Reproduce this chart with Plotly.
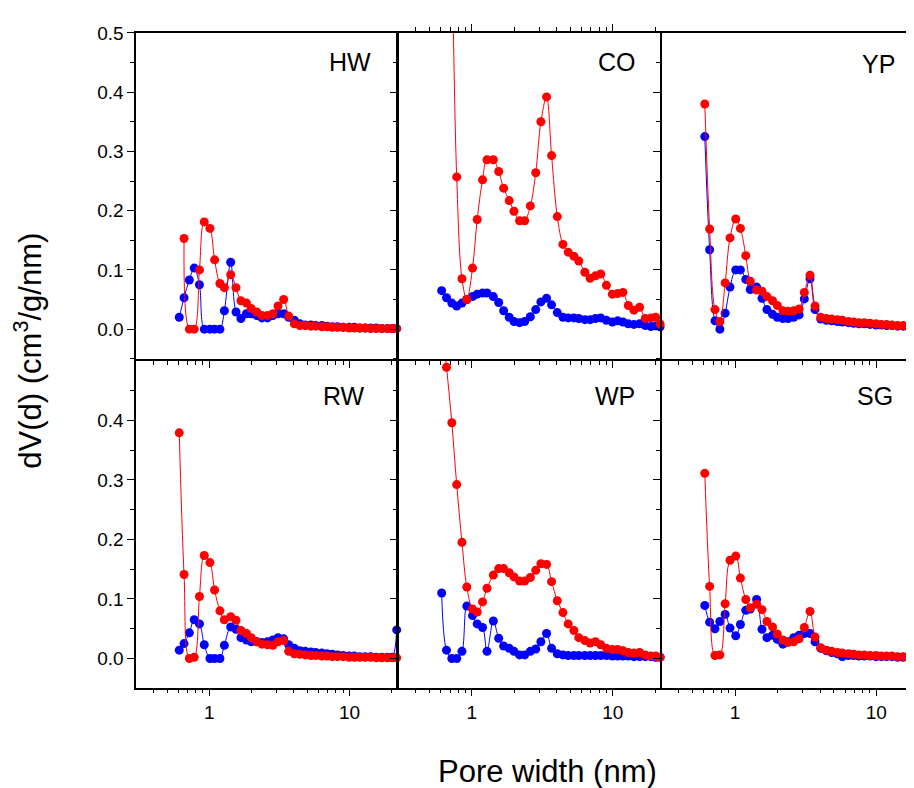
import plotly.graph_objects as go

# pore widths (nm) shared by every panel
PORE_WIDTH = [0.61, 0.66, 0.72, 0.78, 0.85, 0.92, 1.01, 1.09, 1.19, 1.28, 1.42, 1.55,
              1.68, 1.84, 1.99, 2.18, 2.37, 2.60, 2.84, 3.09, 3.39, 3.68, 4.04, 4.43,
              4.83, 5.30, 5.74, 6.34, 6.91, 7.54, 8.22, 9.02, 9.94, 10.84, 11.82, 12.90,
              14.15, 15.51, 17.01, 18.66, 20.20, 21.70]

PANELS = ['HW', 'CO', 'YP', 'RW', 'WP', 'SG']

HW_BLUE = [0.020, 0.053, 0.083, 0.103, 0.075, 0.0, 0.0, 0.0, 0.0, 0.031, 0.113, 0.029,
           0.018, 0.026, 0.026, 0.023, 0.019, 0.019, 0.023, 0.026, 0.026, 0.020, 0.015,
           0.009, 0.007, 0.007, 0.006, 0.006, 0.005, 0.004, 0.004, 0.003, 0.003, 0.003,
           0.002, 0.002, 0.002, 0.002, 0.001, 0.001, 0.001, 0.001]
HW_RED = [None, 0.153, 0.0, 0.0, 0.100, 0.181, 0.170, 0.117, 0.077, 0.070, 0.092, 0.070,
          0.048, 0.044, 0.035, 0.029, 0.023, 0.023, 0.026, 0.039, 0.050, 0.022, 0.009,
          0.006, 0.006, 0.005, 0.005, 0.004, 0.004, 0.003, 0.003, 0.003, 0.002, 0.002,
          0.002, 0.002, 0.001, 0.001, 0.001, 0.001, 0.001, 0.001]

CO_BLUE = [0.065, 0.053, 0.044, 0.039, 0.044, 0.050, 0.055, 0.059, 0.061, 0.061, 0.055,
           0.045, 0.031, 0.020, 0.013, 0.011, 0.013, 0.021, 0.033, 0.046, 0.052, 0.041,
           0.028, 0.020, 0.019, 0.019, 0.018, 0.016, 0.016, 0.018, 0.019, 0.015, 0.012,
           0.014, 0.012, 0.009, 0.008, 0.009, 0.006, 0.0045, 0.0055, 0.004]
CO_RED = [1.1, 0.9, 0.62, 0.257, 0.085, 0.050, 0.103, 0.185, 0.252, 0.286, 0.286, 0.266,
          0.238, 0.217, 0.199, 0.183, 0.183, 0.208, 0.264, 0.350, 0.392, 0.293, 0.190,
          0.143, 0.130, 0.123, 0.115, 0.096, 0.086, 0.090, 0.093, 0.074, 0.059, 0.060,
          0.062, 0.040, 0.032, 0.037, 0.018, 0.019, 0.020, 0.009]

YP_BLUE = [0.325, 0.134, 0.014, 0.0, 0.027, 0.071, 0.100, 0.100, 0.084, 0.067, 0.071,
           0.052, 0.033, 0.025, 0.020, 0.018, 0.018, 0.020, 0.024, 0.051, 0.085, 0.033,
           0.017, 0.015, 0.014, 0.013, 0.012, 0.011, 0.010, 0.009, 0.009, 0.008, 0.007,
           0.007, 0.006, 0.006, 0.005, 0.005, 0.004, 0.004, 0.003, 0.003]
YP_RED = [0.380, 0.169, 0.033, 0.013, 0.078, 0.154, 0.186, 0.170, 0.124, 0.081, 0.066,
          0.064, 0.055, 0.048, 0.040, 0.031, 0.030, 0.031, 0.034, 0.062, 0.091, 0.039,
          0.020, 0.018, 0.017, 0.016, 0.015, 0.013, 0.012, 0.011, 0.011, 0.010, 0.009,
          0.008, 0.008, 0.007, 0.006, 0.006, 0.005, 0.005, 0.004, 0.004]

RW_BLUE = [0.014, 0.025, 0.043, 0.065, 0.058, 0.023, 0.0, 0.0, 0.0, 0.022, 0.053, 0.049,
           0.035, 0.031, 0.028, 0.028, 0.027, 0.028, 0.031, 0.035, 0.033, 0.023, 0.017,
           0.013, 0.012, 0.011, 0.010, 0.009, 0.008, 0.007, 0.006, 0.005, 0.004, 0.004,
           0.003, 0.003, 0.003, 0.002, 0.002, 0.002, 0.002, 0.048]
RW_RED = [0.379, 0.141, 0.0, 0.002, 0.104, 0.173, 0.161, 0.115, 0.080, 0.065, 0.070, 0.064,
          0.047, 0.042, 0.035, 0.028, 0.024, 0.023, 0.022, 0.028, 0.030, 0.012, 0.008,
          0.007, 0.006, 0.005, 0.005, 0.004, 0.004, 0.003, 0.003, 0.003, 0.002, 0.002,
          0.002, 0.002, 0.002, 0.001, 0.001, 0.001, 0.001, 0.001]

WP_BLUE = [0.110, 0.014, 0.0, 0.0, 0.012, 0.088, 0.072, 0.058, 0.052, 0.012, 0.063, 0.034,
           0.021, 0.017, 0.012, 0.006, 0.006, 0.012, 0.016, 0.028, 0.042, 0.017, 0.008,
           0.006, 0.005, 0.005, 0.005, 0.005, 0.005, 0.005, 0.005, 0.005, 0.004, 0.004,
           0.004, 0.004, 0.003, 0.003, 0.003, 0.003, 0.002, 0.002]
WP_RED = [0.56, 0.489, 0.396, 0.292, 0.195, 0.120, 0.083, 0.078, 0.095, 0.118, 0.140, 0.151,
          0.151, 0.144, 0.137, 0.130, 0.130, 0.136, 0.148, 0.159, 0.158, 0.129, 0.097,
          0.077, 0.058, 0.047, 0.035, 0.030, 0.026, 0.028, 0.023, 0.017, 0.015, 0.015,
          0.013, 0.010, 0.009, 0.010, 0.006, 0.004, 0.004, 0.002]

SG_BLUE = [0.089, 0.061, 0.050, 0.062, 0.074, 0.051, 0.038, 0.057, 0.081, 0.083, 0.099,
           0.049, 0.035, 0.039, 0.032, 0.024, 0.028, 0.035, 0.039, 0.042, 0.042, 0.028,
           0.017, 0.013, 0.010, 0.008, 0.003, 0.005, 0.005, 0.004, 0.004, 0.004, 0.003,
           0.003, 0.003, 0.003, 0.002, 0.002, 0.002, 0.002, 0.002, 0.001]
SG_RED = [0.311, 0.121, 0.005, 0.006, 0.092, 0.165, 0.172, 0.135, 0.099, 0.085, 0.091,
          0.082, 0.062, 0.053, 0.041, 0.031, 0.027, 0.028, 0.033, 0.052, 0.079, 0.036,
          0.018, 0.014, 0.012, 0.010, 0.009, 0.008, 0.007, 0.006, 0.006, 0.005, 0.005,
          0.004, 0.004, 0.004, 0.003, 0.003, 0.003, 0.002, 0.002, 0.002]

SERIES = {'HW': (HW_BLUE, HW_RED), 'CO': (CO_BLUE, CO_RED), 'YP': (YP_BLUE, YP_RED),
          'RW': (RW_BLUE, RW_RED), 'WP': (WP_BLUE, WP_RED), 'SG': (SG_BLUE, SG_RED)}

FONT = 'Liberation Sans, Arial, sans-serif'
W, H = 914, 788
OFF = 8      # the page body margin shifts the figure by this much
LW = 1.5     # frame line width

# frame line positions on the page, in pixels
XB = [135.7, 398.5, 662.5, 922 + LW / 2]
YB = [22.3, 354.5, 687.0]
XRANGES = [[-0.522, 1.338], [-0.522, 1.338], [-0.519, 1.309]]
YRANGES = [[-0.051, 0.5001], [-0.049, 0.4999]]
# label centres on the page, in pixels
LABEL_POS = [(351, 53), (618, 53), (880, 55), (345, 391), (616, 391), (877, 391)]


def px(x):
    return (x - OFF) / W


def py(y):
    return 1 - (y - OFF) / H


fig = go.Figure()
layout = dict(width=W, height=H, margin=dict(l=0, r=0, t=0, b=0),
              paper_bgcolor='white', plot_bgcolor='white', showlegend=False,
              font=dict(family=FONT, color='black'))
annotations = []

for k, name in enumerate(PANELS):
    sfx = '' if k == 0 else str(k + 1)
    row, col = divmod(k, 3)
    blue, red = SERIES[name]
    for vals, colr in ((blue, '#0000ff'), (red, '#ff0000')):
        fig.add_trace(go.Scatter(
            x=PORE_WIDTH, y=vals, mode='lines+markers', cliponaxis=False,
            line=dict(color=colr, width=1, shape='spline', smoothing=1),
            marker=dict(color=colr, size=9),
            xaxis='x' + sfx, yaxis='y' + sfx))

    dx = [max(0, px(XB[col] + LW / 2)), min(1, px(XB[col + 1] - LW / 2))]
    dy = [py(YB[row + 1] - LW / 2), py(YB[row] + LW / 2)]
    layout['xaxis' + sfx] = dict(
        type='log', range=XRANGES[col], domain=dx, anchor='y' + sfx,
        showline=True, linecolor='black', linewidth=LW,
        mirror='allticks' if name == 'CO' else True,
        ticks='outside', ticklen=7, tickwidth=1.3, tickcolor='black', dtick=1,
        showticklabels=(row == 1), tickfont=dict(size=19, family=FONT, color='black'),
        minor=dict(ticks='outside', ticklen=4, tickwidth=1, tickcolor='black',
                   dtick='D1', showgrid=False),
        showgrid=False, zeroline=False)
    layout['yaxis' + sfx] = dict(
        range=YRANGES[row], domain=dy, anchor='x' + sfx,
        showline=True, linecolor='black', linewidth=LW, mirror=True,
        ticks='outside', ticklen=7, tickwidth=1.3, tickcolor='black',
        dtick=0.1, tick0=0, tickformat='.1f',
        showticklabels=(col == 0), tickfont=dict(size=19, family=FONT, color='black'),
        minor=dict(ticks='outside', ticklen=4, tickwidth=1, tickcolor='black',
                   dtick=0.05, tick0=0, showgrid=False),
        showgrid=False, zeroline=False)

    lx, ly = LABEL_POS[k]
    annotations.append(dict(
        text=name, xref='paper', yref='paper', x=px(lx), y=py(ly),
        xanchor='center', yanchor='middle', showarrow=False,
        font=dict(size=25, family=FONT, color='black')))

annotations.append(dict(
    text='dV(d) (cm<sup>3</sup>/g/nm)', xref='paper', yref='paper',
    x=px(28), y=py(345), xanchor='center', yanchor='middle',
    textangle=-90, showarrow=False,
    font=dict(size=31, family=FONT, color='black')))
annotations.append(dict(
    text='Pore width (nm)', xref='paper', yref='paper',
    x=px(549), y=py(771), xanchor='center', yanchor='middle', showarrow=False,
    font=dict(size=31, family=FONT, color='black')))

layout['annotations'] = annotations
fig.update_layout(**layout)
fig.write_html("out.html")
